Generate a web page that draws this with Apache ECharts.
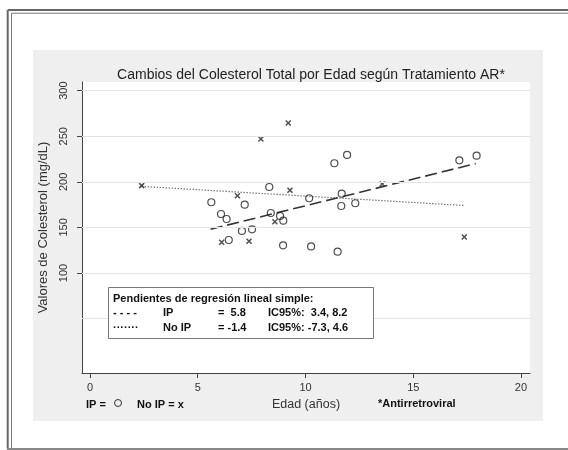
<!DOCTYPE html>
<html><head><meta charset="utf-8">
<script src="https://cdn.jsdelivr.net/npm/echarts@6/dist/echarts.min.js"></script>
<style>html,body{margin:0;padding:0;background:#fff}#c{width:568px;height:450px}</style>
</head><body><div id="c"></div>
<script>
// ---- data ----
const xTicks = [0, 5, 10, 15, 20];
const yTicks = [100, 150, 200, 250, 300];
const yGrid = [50, 100, 150, 200, 250, 300];

// IP (circles)
const ipAge  = [5.63, 6.08, 6.34, 6.44, 7.18, 7.05, 7.52, 8.32, 8.39, 8.82, 8.97, 8.96, 10.17, 10.26, 11.34, 11.93, 11.68, 11.66, 12.31, 11.49, 17.14, 17.94];
const ipChol = [177.6, 164.7, 159.2, 136.2, 174.9, 146.1, 147.9, 194.3, 165.8, 162.5, 157.4, 130.4, 182.0, 129.1, 220.4, 229.5, 187.0, 173.5, 176.5, 123.4, 223.6, 228.7];

// No IP (x)
const noIpAge  = [2.40, 7.93, 9.20, 6.84, 9.28, 8.58, 6.11, 7.38, 13.56, 17.37];
const noIpChol = [195.8, 247.0, 264.6, 184.8, 190.7, 156.3, 133.7, 134.8, 197.6, 139.5];

// regression fits
const ipFitAge = [5.6, 17.9];
const ipFitChol = [148, 220];
const noIpFitAge = [2.4, 17.4];
const noIpFitChol = [195, 174];

const titleText = 'Cambios del Colesterol Total por Edad según Tratamiento AR*';
const legendHeader = 'Pendientes de regresión lineal simple:';
const legendRows = [
  ['- - - -', 'IP', '=  5.8', 'IC95%:  3.4, 8.2'],
  ['·······', 'No IP', '= -1.4', 'IC95%: -7.3, 4.6']
];

// ---- chart ----
const FONT = '"Liberation Sans", Arial, Helvetica, sans-serif';
const pair = (a, b) => a.map((v, i) => [v, b[i]]);
const chart = echarts.init(document.getElementById('c'), null, {renderer: 'canvas'});

const legendX = [113, 163, 218, 268];
const legendY = [312.5, 327.5];
const legendTexts = [];
legendRows.forEach((row, r) => {
  row.forEach((t, c) => {
    legendTexts.push({
      type: 'text', z: 51, silent: true,
      style: {x: legendX[c], y: legendY[r], text: t, fill: '#111', font: 'bold 11px ' + FONT, textVerticalAlign: 'middle', verticalAlign: 'middle'}
    });
  });
});

const option = {
  backgroundColor: '#fff',
  animation: false,
  title: {
    text: titleText, left: 306, top: 63, textAlign: 'center',
    textStyle: {fontFamily: FONT, fontSize: 14, fontWeight: 'normal', color: '#222'}
  },
  grid: {left: 82, top: 82, right: 38, bottom: 77, show: true, backgroundColor: '#fff', borderWidth: 0, containLabel: false, outerBoundsMode: 'none'},
  xAxis: {
    type: 'value', min: -0.371, max: 20.418,
    axisLine: {onZero: false, lineStyle: {color: '#444', width: 1}},
    axisTick: {show: true, customValues: xTicks, length: 5, lineStyle: {color: '#444'}},
    axisLabel: {customValues: xTicks, margin: 9, fontFamily: FONT, fontSize: 11, color: '#333'},
    splitLine: {show: false},
    name: 'Edad (años)', nameLocation: 'middle', nameGap: 19,
    nameTextStyle: {fontFamily: FONT, fontSize: 12.5, color: '#333'}
  },
  yAxis: {
    type: 'value', min: -9.7, max: 309.5,
    axisLine: {show: true, onZero: false, lineStyle: {color: '#444', width: 1}},
    axisTick: {show: true, customValues: yTicks, length: 5, lineStyle: {color: '#444'}},
    axisLabel: {customValues: yTicks, rotate: 90, margin: 13, fontFamily: FONT, fontSize: 11, color: '#333'},
    splitLine: {show: false},
    name: 'Valores de Colesterol (mg/dL)', nameLocation: 'middle', nameGap: 21, nameRotate: 90,
    nameTextStyle: {fontFamily: FONT, fontSize: 13, color: '#333'}
  },
  series: [
    {
      type: 'scatter', data: [], z: 1, silent: true,
      markLine: {
        silent: true, symbol: ['none', 'none'], label: {show: false},
        lineStyle: {color: '#e4e4e4', type: 'solid', width: 1},
        data: yGrid.map(v => ({yAxis: v}))
      }
    },
    {
      type: 'line', data: pair(noIpFitAge, noIpFitChol), symbol: 'none', z: 3, silent: true,
      lineStyle: {color: '#555', width: 1.2, type: [1.2, 1.8]}
    },
    {
      type: 'line', data: pair(ipFitAge, ipFitChol), symbol: 'none', z: 3, silent: true,
      lineStyle: {color: '#333', width: 1.6, type: [12, 5]}
    },
    {
      type: 'scatter', name: 'IP', data: pair(ipAge, ipChol), symbol: 'circle', symbolSize: 7, z: 4,
      itemStyle: {color: 'rgba(0,0,0,0)', borderColor: '#222', borderWidth: 1.2}
    },
    {
      type: 'scatter', name: 'No IP', data: pair(noIpAge, noIpChol),
      symbol: 'path://M0,0L10,10M10,0L0,10', symbolSize: 5, z: 4,
      itemStyle: {color: 'rgba(0,0,0,0)', borderColor: '#222', borderWidth: 1.5}
    }
  ],
  graphic: {
    elements: [
      {type: 'rect', z: -10, silent: true, shape: {x: 33, y: 50, width: 510, height: 371}, style: {fill: '#efefef'}},
      // frame
      {type: 'line', z: 60, silent: true, shape: {x1: 7.7, y1: 10, x2: 7.7, y2: 449}, style: {stroke: '#666', lineWidth: 2}},
      {type: 'line', z: 60, silent: true, shape: {x1: 7.7, y1: 10, x2: 568, y2: 10}, style: {stroke: '#666', lineWidth: 2}},
      {type: 'line', z: 60, silent: true, shape: {x1: 11.5, y1: 13.2, x2: 11.5, y2: 449}, style: {stroke: '#777', lineWidth: 1}},
      {type: 'line', z: 60, silent: true, shape: {x1: 11.5, y1: 13.2, x2: 568, y2: 13.2}, style: {stroke: '#777', lineWidth: 1}},
      {type: 'line', z: 60, silent: true, shape: {x1: 7, y1: 449, x2: 568, y2: 449}, style: {stroke: '#888', lineWidth: 2}},
      // legend box
      {type: 'rect', z: 50, silent: true, shape: {x: 108.5, y: 287.5, width: 265, height: 51}, style: {fill: '#fff', stroke: '#777', lineWidth: 1}},
      {type: 'text', z: 51, silent: true, style: {x: 113, y: 298.5, text: legendHeader, fill: '#111', font: 'bold 11px ' + FONT, verticalAlign: 'middle', textVerticalAlign: 'middle'}},
      ...legendTexts,
      // bottom notes
      {type: 'text', z: 51, silent: true, style: {x: 86, y: 405, text: 'IP =', fill: '#111', font: 'bold 11px ' + FONT, verticalAlign: 'middle', textVerticalAlign: 'middle'}},
      {type: 'circle', z: 51, silent: true, shape: {cx: 118, cy: 403, r: 3.5}, style: {fill: 'none', stroke: '#333', lineWidth: 1}},
      {type: 'text', z: 51, silent: true, style: {x: 137, y: 405, text: 'No IP = x', fill: '#111', font: 'bold 11px ' + FONT, verticalAlign: 'middle', textVerticalAlign: 'middle'}},
      {type: 'text', z: 51, silent: true, style: {x: 378, y: 404, text: '*Antirretroviral', fill: '#111', font: 'bold 11px ' + FONT, verticalAlign: 'middle', textVerticalAlign: 'middle'}}
    ]
  }
};
chart.setOption(option);
</script>
</body></html>
